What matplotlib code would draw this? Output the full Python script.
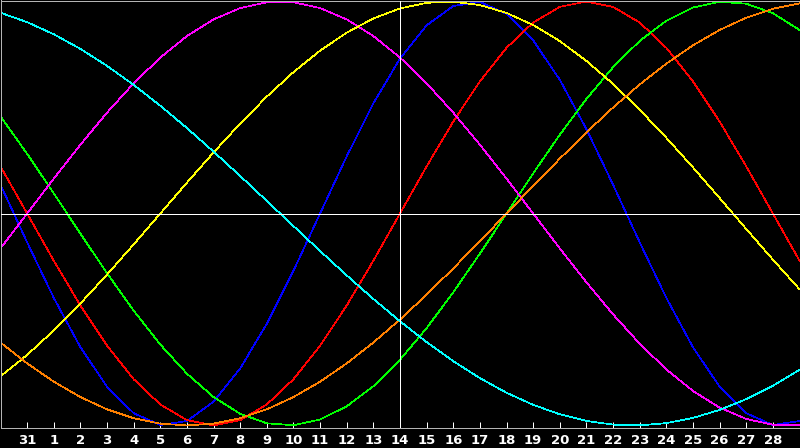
import matplotlib
matplotlib.use("Agg")
import matplotlib.pyplot as plt

# day labels under the ticks (index 1..29); index 0 and 30 sit on the frame edges
day_labels = ["31", "1", "2", "3", "4", "5", "6", "7", "8", "9", "10", "11", "12",
              "13", "14", "15", "16", "17", "18", "19", "20", "21", "22", "23",
              "24", "25", "26", "27", "28"]
today_index = 15  # "14"

# cycle values, one per day (index 0..30)
physical = [0.136, -0.136, -0.398, -0.631, -0.817, -0.942, -0.998, -0.979, -0.888,
            -0.731, -0.520, -0.270, 0.0, 0.270, 0.520, 0.731, 0.888, 0.979, 0.998,
            0.942, 0.817, 0.631, 0.398, 0.136, -0.136, -0.398, -0.631, -0.817,
            -0.942, -0.998, -0.979]
emotional = [0.2225, 0.0, -0.2225, -0.4339, -0.6235, -0.7818, -0.9010, -0.9749, -1.0,
             -0.9749, -0.9010, -0.7818, -0.6235, -0.4339, -0.2225, 0.0, 0.2225,
             0.4339, 0.6235, 0.7818, 0.9010, 0.9749, 1.0, 0.9749, 0.9010, 0.7818,
             0.6235, 0.4339, 0.2225, 0.0, -0.2225]
intellectual = [0.4582, 0.2817, 0.0951, -0.0951, -0.2817, -0.4582, -0.6182, -0.7557,
                -0.8660, -0.9450, -0.9898, -0.9989, -0.9718, -0.9096, -0.8146,
                -0.6901, -0.5406, -0.3717, -0.1893, 0.0, 0.1893, 0.3717, 0.5406,
                0.6901, 0.8146, 0.9096, 0.9718, 0.9989, 0.9898, 0.9450, 0.8660]
intuitive = [-0.1646, 0.0, 0.1646, 0.3247, 0.4759, 0.6142, 0.7357, 0.8372, 0.9158,
             0.9694, 0.9966, 0.9966, 0.9694, 0.9158, 0.8372, 0.7357, 0.6142, 0.4759,
             0.3247, 0.1646, 0.0, -0.1646, -0.3247, -0.4759, -0.6142, -0.7357,
             -0.8372, -0.9158, -0.9694, -0.9966, -0.9966]
aesthetic = [-0.7684, -0.6671, -0.5517, -0.4244, -0.2881, -0.1456, 0.0, 0.1456, 0.2881,
             0.4244, 0.5517, 0.6671, 0.7684, 0.8533, 0.9204, 0.9675, 0.9940, 0.9993,
             0.9834, 0.9465, 0.8894, 0.8135, 0.7198, 0.6112, 0.4895, 0.3572, 0.2174,
             0.0730, -0.0730, -0.2174, -0.3572]
awareness = [-0.6088, -0.7071, -0.7934, -0.8660, -0.9239, -0.9659, -0.9914, -1.0,
             -0.9914, -0.9659, -0.9239, -0.8660, -0.7934, -0.7071, -0.6088, -0.5,
             -0.3827, -0.2588, -0.1305, 0.0, 0.1305, 0.2588, 0.3827, 0.5, 0.6088,
             0.7071, 0.7934, 0.8660, 0.9239, 0.9659, 0.9914]
spiritual = [0.9473, 0.9028, 0.8457, 0.7767, 0.6965, 0.6068, 0.5085, 0.4031, 0.2920,
             0.1769, 0.0592, -0.0592, -0.1769, -0.2920, -0.4031, -0.5085, -0.6068,
             -0.6965, -0.7767, -0.8457, -0.9028, -0.9473, -0.9786, -0.9960, -0.9996,
             -0.9890, -0.9646, -0.9267, -0.8757, -0.8125, -0.7378]

series = [
    (physical, "#0000ff"),
    (emotional, "#ff0000"),
    (intellectual, "#00ff00"),
    (intuitive, "#ff00ff"),
    (aesthetic, "#ffff00"),
    (awareness, "#ff8000"),
    (spiritual, "#00ffff"),
]

fig = plt.figure(figsize=(8, 4.48), dpi=100, facecolor="black")
ax = fig.add_axes([0.5 / 800, 20 / 448, 799 / 800, 427.5 / 448])
ax.set_facecolor("black")

days = list(range(len(physical)))
for values, color in series:
    ax.plot(days, values, color=color, linewidth=0.5, antialiased=False, zorder=2)

# zero line and "today" marker
ax.axhline(0, color="white", linewidth=0.72, antialiased=False, zorder=3)
ax.axvline(today_index, color="white", linewidth=0.72, antialiased=False, zorder=3)

ax.set_xlim(0, len(days) - 1)
ax.set_ylim(-1.012, 1.005)

ax.set_xticks(range(1, len(day_labels) + 1))
ax.set_xticklabels(day_labels)
ax.set_yticks([])
ax.tick_params(axis="x", direction="in", length=4, width=0.72, color="white",
               labelcolor="white", labelsize=9.5, pad=4)
for lbl in ax.get_xticklabels():
    lbl.set_fontweight("bold")

for spine in ax.spines.values():
    spine.set_color("#b4b4b4")
    spine.set_linewidth(0.72)

fig.savefig("out.png", dpi=100, facecolor="black")
